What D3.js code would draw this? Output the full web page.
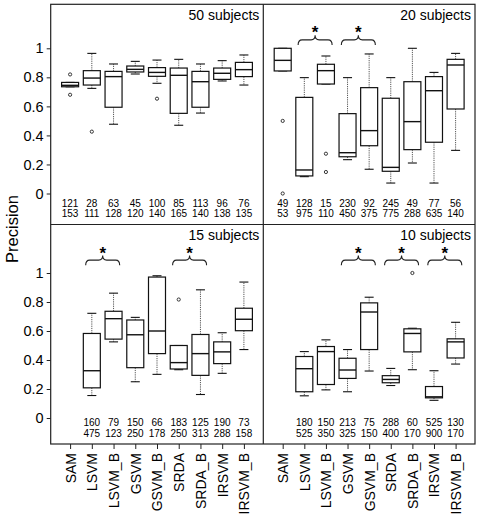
<!DOCTYPE html>
<html><head><meta charset="utf-8">
<script src="https://cdn.jsdelivr.net/npm/d3@7"></script>
<style>
html,body{margin:0;padding:0;background:#fff;}
svg{display:block;font-family:"Liberation Sans",Arial,sans-serif;}
</style></head>
<body>
<svg id="c" width="481" height="519"></svg>
<script>
// ---------- data ----------
const methods = ["SAM","LSVM","LSVM_B","GSVM","GSVM_B","SRDA","SRDA_B","IRSVM","IRSVM_B"];
const panelTitles = ["50 subjects","20 subjects","15 subjects","10 subjects"];
const yTicks = [0,0.2,0.4,0.6,0.8,1];

// box stats per method: [whiskerLow, q1, median, q3, whiskerHigh]
const box50 = [[0.735,0.735,0.745,0.765,0.765],[0.724,0.747,0.795,0.846,0.965],[0.477,0.594,0.805,0.841,0.892],
  [0.823,0.837,0.855,0.878,0.910],[0.759,0.807,0.834,0.867,0.919],[0.470,0.552,0.814,0.864,0.924],
  [0.554,0.594,0.770,0.841,0.892],[0.775,0.786,0.828,0.864,0.915],[0.747,0.805,0.853,0.903,0.954]];
const out50 = [[0.82,0.68],[0.426],[],[],[0.653],[],[],[],[]];
const box20 = [[0.844,0.844,0.917,1.0,1.0],[0.116,0.121,0.162,0.662,0.798],[0.754,0.754,0.846,0.890,0.947],
  [0.233,0.253,0.281,0.550,0.798],[0.167,0.329,0.433,0.729,0.961],[0.072,0.153,0.180,0.656,0.798],
  [0.210,0.302,0.495,0.770,1.0],[0.072,0.353,0.708,0.805,0.834],[0.297,0.582,0.885,0.924,0.965]];
const out20 = [[0.5,0.0],[],[0.274,0.148],[],[],[],[],[],[]];
const box15 = [null,[0.155,0.208,0.326,0.583,0.722],[0.525,0.544,0.685,0.736,0.861],
  [0.25,0.347,0.574,0.676,0.694],[0.301,0.444,0.600,0.972,0.981],[0.333,0.338,0.382,0.5,0.5],
  [0.162,0.294,0.444,0.576,0.884],[0.308,0.375,0.456,0.525,0.588],[0.472,0.602,0.681,0.757,0.9375]];
const out15 = [[],[],[],[],[],[0.817],[],[],[]];
const box10 = [null,[0.153,0.181,0.340,0.424,0.458],[0.194,0.231,0.458,0.493,0.539],
  [0.181,0.273,0.331,0.412,0.472],[0.324,0.472,0.731,0.794,0.833],[0.224,0.243,0.266,0.292,0.342],
  [0.333,0.456,0.583,0.615,0.619],[0.122,0.139,0.146,0.217,0.326],[0.372,0.414,0.525,0.546,0.66]];
const out10 = [[],[],[],[],[],[],[1.0],[],[]];

// counts below boxes (two rows)
const cntA50 = ["121","28","63","45","100","85","113","96","76"];
const cntB50 = ["153","111","128","120","140","165","140","138","135"];
const cntA20 = ["49","128","15","230","92","245","49","77","56"];
const cntB20 = ["53","975","110","450","375","775","288","635","140"];
const cntA15 = ["","160","79","150","66","183","125","190","73"];
const cntB15 = ["","475","123","250","178","250","313","288","158"];
const cntA10 = ["","180","150","213","75","288","60","525","130"];
const cntB10 = ["","525","350","325","150","400","170","900","170"];

// significance braces (pairs of methods)
const sig50 = [];
const sig20 = [["LSVM","LSVM_B"],["GSVM","GSVM_B"]];
const sig15 = [["LSVM","LSVM_B"],["SRDA","SRDA_B"]];
const sig10 = [["GSVM","GSVM_B"],["SRDA","SRDA_B"],["IRSVM","IRSVM_B"]];

const panels = [
  {title:panelTitles[0], box:box50, out:out50, cA:cntA50, cB:cntB50, sig:sig50, col:0, row:0},
  {title:panelTitles[1], box:box20, out:out20, cA:cntA20, cB:cntB20, sig:sig20, col:1, row:0},
  {title:panelTitles[2], box:box15, out:out15, cA:cntA15, cB:cntB15, sig:sig15, col:0, row:1},
  {title:panelTitles[3], box:box10, out:out10, cA:cntA10, cB:cntB10, sig:sig10, col:1, row:1}
];

// ---------- layout ----------
const svg = d3.select("#c");
const colX = [50.7, 263.3, 475];
const rowY = [4.3, 224.5, 444];
const yRange = [[193.5,48.3],[418,273]];
const pad = 19.4;
const boxW = 17, capW = 9;

const xs = [0,1].map(c => d3.scalePoint().domain(methods).range([colX[c]+pad, colX[c+1]-pad]));
const ys = [0,1].map(r => d3.scaleLinear().domain([0,1]).range(yRange[r]));

panels.forEach(p => {
  const x = xs[p.col], y = ys[p.row];
  const top = rowY[p.row], bot = rowY[p.row+1];
  const right = colX[p.col+1];
  const g = svg.append("g");

  // title
  g.append("text").attr("x", right-4).attr("y", top+15.5).attr("text-anchor","end")
    .attr("font-size",14).attr("fill","#000").text(p.title);

  // boxes
  methods.forEach((m,i) => {
    const s = p.box[i];
    const cx = x(m);
    if (s) {
      const [lo,q1,md,q3,hi] = s;
      // whiskers (dotted)
      g.append("line").attr("x1",cx).attr("x2",cx).attr("y1",y(q3)).attr("y2",y(hi))
        .attr("stroke","#555").attr("stroke-width",1).attr("stroke-dasharray","1.2,1");
      g.append("line").attr("x1",cx).attr("x2",cx).attr("y1",y(q1)).attr("y2",y(lo))
        .attr("stroke","#555").attr("stroke-width",1).attr("stroke-dasharray","1.2,1");
      [lo,hi].forEach(v => g.append("line").attr("x1",cx-capW/2).attr("x2",cx+capW/2)
        .attr("y1",y(v)).attr("y2",y(v)).attr("stroke","#111").attr("stroke-width",1.1));
      g.append("rect").attr("x",cx-boxW/2).attr("y",y(q3)).attr("width",boxW)
        .attr("height",Math.max(0.5,y(q1)-y(q3))).attr("fill","#fff")
        .attr("stroke","#111").attr("stroke-width",1.2);
      g.append("line").attr("x1",cx-boxW/2).attr("x2",cx+boxW/2).attr("y1",y(md)).attr("y2",y(md))
        .attr("stroke","#111").attr("stroke-width",1.4);
    }
    (p.out[i]||[]).forEach(v => g.append("circle").attr("cx",cx).attr("cy",y(v)).attr("r",1.6)
      .attr("fill","#fff").attr("stroke","#222").attr("stroke-width",0.9));
    // counts
    g.append("text").attr("x",cx).attr("y",bot-18).attr("text-anchor","middle")
      .attr("font-size",10).attr("fill","#000").text(p.cA[i]);
    g.append("text").attr("x",cx).attr("y",bot-7.3).attr("text-anchor","middle")
      .attr("font-size",10).attr("fill","#000").text(p.cB[i]);
  });

  // braces
  p.sig.forEach(([a,b]) => {
    const xc = (x(a)+x(b))/2, hw = 17;
    const x0 = xc-hw, x1 = xc+hw;
    const yE = top+40.7, yF = top+35.6, yP = top+31;
    const r = 4;
    const path = `M${x0},${yE} Q${x0},${yF} ${x0+r},${yF} L${xc-r},${yF} Q${xc},${yF} ${xc},${yP}`+
                 ` Q${xc},${yF} ${xc+r},${yF} L${x1-r},${yF} Q${x1},${yF} ${x1},${yE}`;
    g.append("path").attr("d",path).attr("fill","none").attr("stroke","#222").attr("stroke-width",1.1);
    g.append("text").attr("x",xc).attr("y",top+34).attr("text-anchor","middle")
      .attr("font-size",17).attr("font-weight","bold").attr("fill","#000").text("*");
  });
});

// y axes on left panels
[0,1].forEach(r => {
  const ax = d3.axisLeft(ys[r]).tickValues(yTicks).tickSize(4).tickPadding(3)
    .tickFormat(d => d===0 ? "0" : d===1 ? "1" : d3.format(".1f")(d));
  const g = svg.append("g").attr("transform",`translate(${colX[0]},0)`).call(ax);
  g.select(".domain").remove();
  g.selectAll(".tick line").attr("stroke","#222");
  g.selectAll("text").attr("font-size",14.5).attr("font-family","Liberation Sans, Arial, sans-serif").attr("fill","#000");
});

// x axes on bottom panels
[0,1].forEach(c => {
  const ax = d3.axisBottom(xs[c]).tickSize(5).tickPadding(0);
  const g = svg.append("g").attr("transform",`translate(0,${rowY[2]})`).call(ax);
  g.select(".domain").remove();
  g.selectAll(".tick line").attr("stroke","#222");
  g.selectAll("text").attr("font-size",14).attr("font-family","Liberation Sans, Arial, sans-serif")
    .attr("fill","#000").attr("text-anchor","end").attr("dy",null)
    .attr("transform","translate(0,9) rotate(-90)").attr("x",0).attr("y",0).attr("dy","0.35em");
});

// panel borders
svg.append("rect").attr("x",colX[0]).attr("y",rowY[0]).attr("width",colX[2]-colX[0])
  .attr("height",rowY[2]-rowY[0]).attr("fill","none").attr("stroke","#222").attr("stroke-width",1.2);
svg.append("line").attr("x1",colX[1]).attr("x2",colX[1]).attr("y1",rowY[0]).attr("y2",rowY[2])
  .attr("stroke","#222").attr("stroke-width",1.2);
svg.append("line").attr("x1",colX[0]).attr("x2",colX[2]).attr("y1",rowY[1]).attr("y2",rowY[1])
  .attr("stroke","#222").attr("stroke-width",1.2);

// y label
svg.append("text").attr("transform","translate(18,229) rotate(-90)").attr("text-anchor","middle")
  .attr("font-size",16.5).attr("fill","#000").text("Precision");
</script>
</body></html>
